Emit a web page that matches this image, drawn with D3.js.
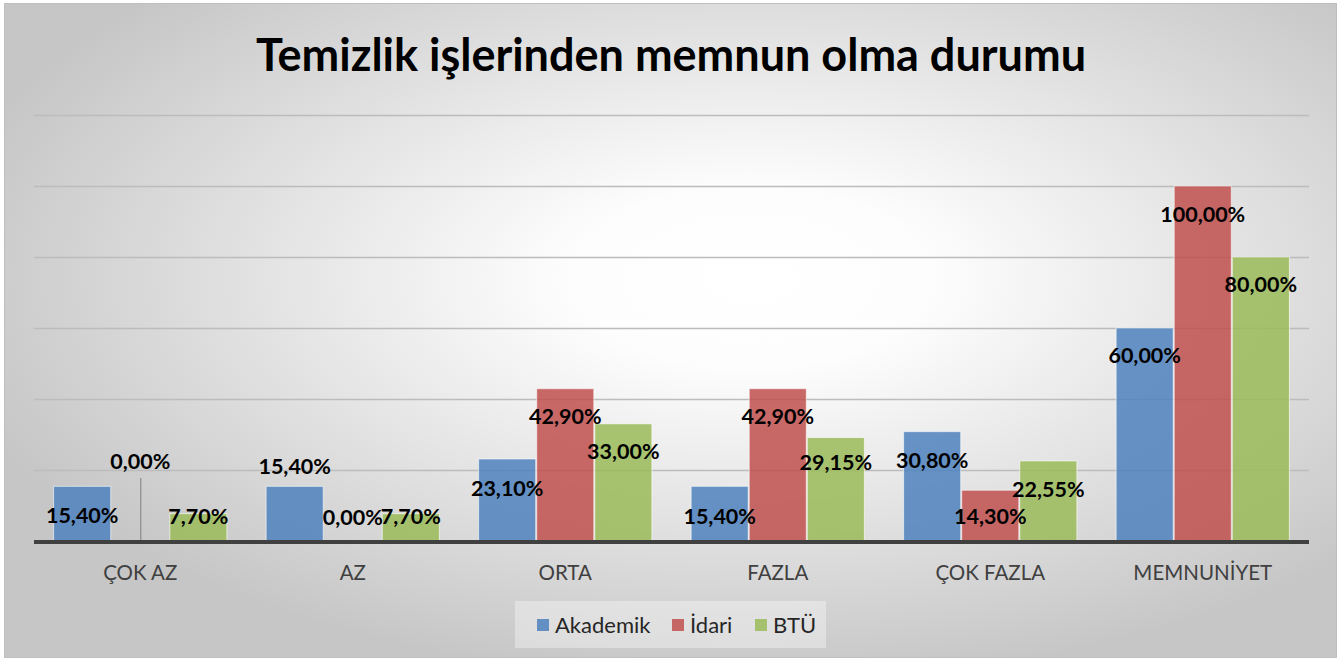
<!DOCTYPE html>
<html>
<head>
<meta charset="utf-8">
<title>Temizlik</title>
<style>
  body { margin: 0; background: #fff; }
  svg text { font-family: Lato, "Open Sans", sans-serif; }
  .title { font-size: 45px; font-weight: bold; fill: #000; }
  .cat { font-size: 20.5px; fill: #404040; }
  .lbl { font-size: 21.5px; font-weight: bold; fill: #000; }
  .leg { font-size: 22px; fill: #262626; }
</style>
<script src="https://cdn.jsdelivr.net/npm/d3@7"></script>
</head>
<body>
<svg id="chart" width="1339" height="661"></svg>
<script>
const categories = ['ÇOK AZ', 'AZ', 'ORTA', 'FAZLA', 'ÇOK FAZLA', 'MEMNUNİYET'];
const seriesNames = ['Akademik', 'İdari', 'BTÜ'];
const akademik = [15.40, 15.40, 23.10, 15.40, 30.80, 60.00];
const idari = [0.00, 0.00, 42.90, 42.90, 14.30, 100.00];
const btu = [7.70, 7.70, 33.00, 29.15, 22.55, 80.00];
const yTicks = [0, 20, 40, 60, 80, 100, 120];

// label offsets from bar top (px), per series per category
const labelShift = [
  [29, -20, 29, 30, 29, 27],
  [-80, -24, 28, 28, 26, 28],
  [3, 3, 28, 25, 29, 27]
];

const colors = ['#4f81bd', '#c0504d', '#9bbb59'];
const values = [akademik, idari, btu];

const svg = d3.select('#chart');

const defs = svg.append('defs');
const grad = defs.append('radialGradient').attr('id', 'bg')
  .attr('cx', '56%').attr('cy', '42%').attr('r', '62%');
grad.append('stop').attr('offset', '0%').attr('stop-color', '#ffffff');
grad.append('stop').attr('offset', '22%').attr('stop-color', '#fdfdfd');
grad.append('stop').attr('offset', '100%').attr('stop-color', '#c6c6c6');

svg.append('rect').attr('x', 4.5).attr('y', 3.5).attr('width', 1332).attr('height', 654)
  .attr('fill', 'url(#bg)').attr('stroke', '#bfbfbf');

svg.append('text').attr('class', 'title')
  .attr('x', 671).attr('y', 71).attr('text-anchor', 'middle')
  .text('Temizlik işlerinden memnun olma durumu');

const x0 = d3.scaleBand().domain(categories).range([34, 1309]).paddingInner(0.18).paddingOuter(0.09);
const x1 = d3.scaleBand().domain(d3.range(3)).range([0, x0.bandwidth()]);
const y = d3.scaleLinear().domain([0, 120]).range([541, 115]);

// gridlines
svg.append('g').selectAll('line').data(yTicks.slice(1)).join('line')
  .attr('x1', 34).attr('x2', 1309)
  .attr('y1', d => Math.round(y(d)) + 0.5).attr('y2', d => Math.round(y(d)) + 0.5)
  .attr('stroke', '#bcbcbc').attr('stroke-width', 1.3);

// bars
const groups = svg.append('g').selectAll('g').data(categories).join('g')
  .attr('transform', d => `translate(${x0(d)},0)`);

groups.selectAll('rect').data((c, i) => values.map((s, k) => ({ k, v: s[i] }))).join('rect')
  .attr('x', d => x1(d.k) + 0.5)
  .attr('width', x1.bandwidth() - 1)
  .attr('y', d => y(d.v))
  .attr('height', d => y(0) - y(d.v))
  .attr('fill', d => colors[d.k])
  .attr('fill-opacity', 0.85)
  .attr('stroke', '#ffffff').attr('stroke-opacity', 0.6).attr('stroke-width', 1);

// leader line for the zero label in the first group
svg.append('line')
  .attr('x1', x0(categories[0]) + x1(1) + x1.bandwidth() / 2 + 0.5)
  .attr('x2', x0(categories[0]) + x1(1) + x1.bandwidth() / 2 + 0.5)
  .attr('y1', y(idari[0]) + labelShift[1][0] + 17).attr('y2', y(0))
  .attr('stroke', '#8c8c8c').attr('stroke-width', 1.2);

// axis baseline
svg.append('line').attr('x1', 34).attr('x2', 1309).attr('y1', y(0) + 1).attr('y2', y(0) + 1)
  .attr('stroke', '#404040').attr('stroke-width', 4);

// category labels
svg.append('g').selectAll('text').data(categories).join('text')
  .attr('class', 'cat')
  .attr('x', d => x0(d) + x0.bandwidth() / 2)
  .attr('y', 580).attr('text-anchor', 'middle')
  .text(d => d);

// value labels
const fmt = v => v.toFixed(2).replace('.', ',') + '%';
groups.selectAll('text').data((c, i) => values.map((s, k) => ({ k, i, v: s[i] }))).join('text')
  .attr('class', 'lbl')
  .attr('x', d => x1(d.k) + x1.bandwidth() / 2)
  .attr('y', d => y(d.v) + labelShift[d.k][d.i])
  .attr('dy', '0.35em')
  .attr('text-anchor', 'middle')
  .text(d => fmt(d.v));

// legend
const legend = svg.append('g');
legend.append('rect').attr('x', 515).attr('y', 601).attr('width', 311).attr('height', 47)
  .attr('fill', '#ffffff').attr('fill-opacity', 0.35);
const legX = [537, 672, 755];
seriesNames.forEach((n, k) => {
  legend.append('rect').attr('x', legX[k]).attr('y', 619).attr('width', 12).attr('height', 12)
    .attr('fill', colors[k]).attr('fill-opacity', 0.85);
  legend.append('text').attr('class', 'leg').attr('x', legX[k] + 18).attr('y', 633).text(n);
});
</script>
</body>
</html>
